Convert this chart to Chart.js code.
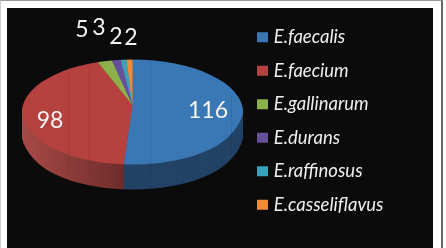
<!DOCTYPE html>
<html>
<head>
<meta charset="utf-8">
<title>Enterococcus species</title>
<style>
    html, body { margin: 0; height: 100%; background: #fff; overflow: hidden; }
    #rule { position: absolute; left: 0; top: 0; width: 440px; height: 248px; border-top: 1px solid #999; border-left: 1px solid #ccc; border-right: 2px solid #666; box-sizing: content-box; }
    #panel { position: absolute; left: 7px; top: 8px; width: 426px; height: 240px; background: #0b0b0b; }
    #wrap { position: absolute; left: 0; top: 0; width: 446px; height: 248px; }
</style>
</head>
<body>
<div id="rule"></div>
<div id="panel"></div>
<div id="wrap"><canvas id="myChart" width="446" height="248"></canvas></div>
<script src="https://cdn.jsdelivr.net/npm/chart.js@4"></script>
<script>
const species = ['E.faecalis', 'E.faecium', 'E.gallinarum', 'E.durans', 'E.raffinosus', 'E.casseliflavus'];
const counts = [116, 98, 5, 3, 2, 2];
const topColors = ['#3a78b5', '#b5423f', '#8cb04c', '#66509a', '#3ba0b9', '#ee8a3a'];
const sideLeft = ['#1f3a5c', '#a84a47', '#6f8a3c', '#4f3e78', '#2e7d90', '#b96c2e'];
const sideRight = ['#234366', '#6c2b2a', '#6f8a3c', '#4f3e78', '#2e7d90', '#b96c2e'];

// where each count is written, in canvas pixels
const labelX = [208, 50, 82, 99, 116, 131];
const labelY = [111, 121, 30, 28, 37, 38];

// tilted disc: outline ellipse, hub point and wall height
const disc = { cx: 132.5, cy: 112, rx: 110.5, ry: 52.5, hubY: 105, depth: 25 };
const seams = [68, 89, 150, 231];

function discPath(ctx, dy) {
    ctx.beginPath();
    ctx.ellipse(disc.cx, disc.cy + dy, disc.rx, disc.ry, 0, 0, Math.PI * 2);
}

// Draws the arc elements squashed onto the disc. The hub sits above the middle
// of the ellipse, so the part above and the part below it get their own y scale.
function drawArcs(ctx, arcs, dy, fillFor) {
    const R = arcs[0].outerRadius;
    const sx = (disc.rx + 1) / R;
    const parts = [
        { top: -50, h: disc.hubY + dy + 50, sy: (disc.hubY - disc.cy + disc.ry) / R },
        { top: disc.hubY + dy, h: 300, sy: (disc.cy + disc.ry - disc.hubY) / R }
    ];
    parts.forEach(function (p) {
        ctx.save();
        discPath(ctx, dy);
        ctx.clip();
        ctx.beginPath();
        ctx.rect(0, p.top, 446, p.h);
        ctx.clip();
        ctx.translate(disc.cx, disc.hubY + dy);
        ctx.scale(sx, p.sy * 1.05);
        ctx.translate(-arcs[0].x, -arcs[0].y);
        arcs.forEach(function (arc, i) {
            const saved = arc.options;
            arc.options = Object.assign({}, saved, { backgroundColor: fillFor(i, arc), borderWidth: 0 });
            arc.draw(ctx);
            arc.options = saved;
        });
        ctx.restore();
    });
}

const tiltedPie = {
    id: 'tiltedPie',
    beforeDatasetDraw(chart) {
        const ctx = chart.ctx;
        const arcs = chart.getDatasetMeta(0).data;

        // outer wall, stacked from the bottom edge upwards
        for (let d = disc.depth; d > 0; d--) {
            drawArcs(ctx, arcs, d, function (i, arc) {
                const g = ctx.createLinearGradient(arc.x - arc.outerRadius, 0, arc.x + arc.outerRadius, 0);
                g.addColorStop(0, sideLeft[i]);
                g.addColorStop(0.48, sideRight[i]);
                g.addColorStop(0.481, sideLeft[i]);
                g.addColorStop(1, sideRight[i]);
                return i === 0 ? sideRight[0] : g;
            });
        }

        // top face
        drawArcs(ctx, arcs, 0, function (i) { return topColors[i]; });

        // faint vertical seams across the disc
        ctx.save();
        ctx.beginPath();
        ctx.ellipse(disc.cx, disc.cy + disc.depth / 2, disc.rx, disc.ry + disc.depth / 2, 0, 0, Math.PI * 2);
        ctx.clip();
        ctx.strokeStyle = 'rgba(0,0,0,0.09)';
        ctx.lineWidth = 1;
        seams.forEach(function (x) {
            ctx.beginPath();
            ctx.moveTo(x + 0.5, 50);
            ctx.lineTo(x + 0.5, 175);
            ctx.stroke();
        });
        ctx.restore();

        return false;
    },
    afterDatasetsDraw(chart) {
        const ctx = chart.ctx;
        ctx.save();
        ctx.fillStyle = '#f4f4f4';
        ctx.font = '23px Lato';
        ctx.textAlign = 'center';
        ctx.textBaseline = 'middle';
        counts.forEach(function (v, i) {
            ctx.fillText(String(v), labelX[i], labelY[i]);
        });
        ctx.restore();
    }
};

new Chart(document.getElementById('myChart').getContext('2d'), {
    type: 'pie',
    data: {
        labels: species,
        datasets: [{
            data: counts,
            backgroundColor: topColors,
            borderWidth: 0
        }]
    },
    options: {
        responsive: false,
        animation: false,
        layout: { padding: { left: 0, right: 52.5, top: 0, bottom: 6 } },
        plugins: {
            tooltip: { enabled: false },
            legend: {
                position: 'right',
                labels: {
                    color: '#efefef',
                    font: { family: 'Lato', size: 18.5, style: 'italic' },
                    // small box plus a thick outline keeps the swatch close to its text
                    boxWidth: 4,
                    boxHeight: 3,
                    padding: 15,
                    generateLabels: function () {
                        return species.map(function (name, i) {
                            return {
                                text: name,
                                fillStyle: topColors[i],
                                strokeStyle: topColors[i],
                                lineWidth: 7,
                                fontColor: '#efefef',
                                index: i
                            };
                        });
                    }
                }
            }
        }
    },
    plugins: [tiltedPie]
});
</script>
</body>
</html>
